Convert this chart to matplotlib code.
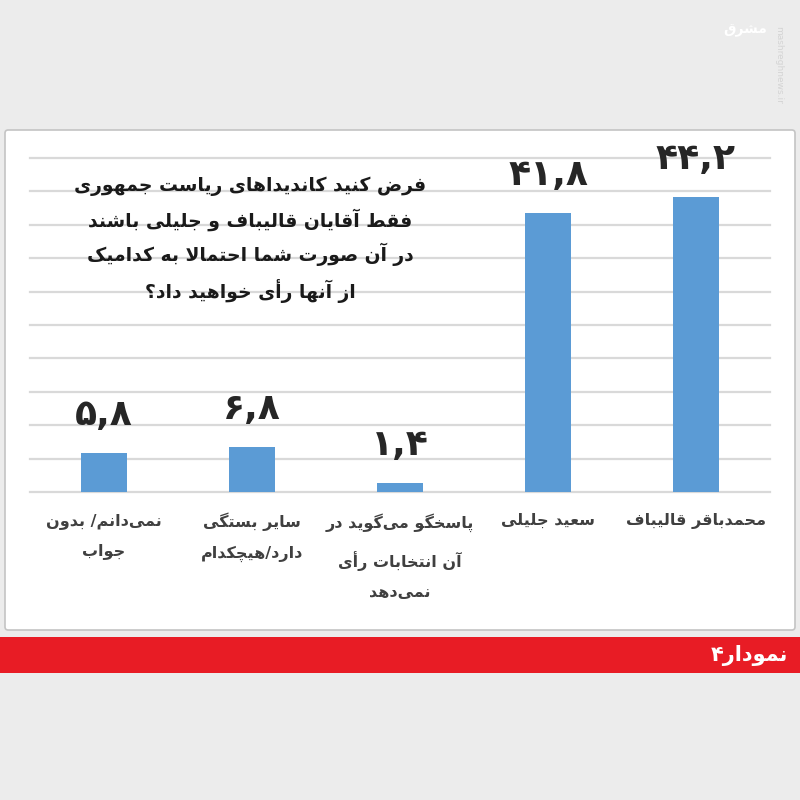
import matplotlib
matplotlib.use("Agg")
import matplotlib.pyplot as plt
from matplotlib.patches import Rectangle, FancyBboxPatch

# Data (right to left in the picture, so listed left to right here)
categories = [
    "نمی‌دانم/ بدون\nجواب",
    "سایر بستگی\nدارد/هیچکدام",
    "پاسخگو می‌گوید در\nآن انتخابات رأی\nنمی‌دهد",
    "سعید جلیلی",
    "محمدباقر قالیباف",
]
values = [5.8, 6.8, 1.4, 41.8, 44.2]
value_labels = ["۵,۸", "۶,۸", "۱,۴", "۴۱,۸", "۴۴,۲"]
title_text = ("فرض کنید کاندیداهای ریاست جمهوری\n"
              "فقط آقایان قالیباف و جلیلی باشند\n"
              "در آن صورت شما احتمالا به کدامیک\n"
              "از آنها رأی خواهید داد؟")
banner_text = "نمودار۴"
grid_ticks = list(range(0, 51, 5))

# Minimal Arabic/Persian shaping (matplotlib has no complex text layout)
# forms: isolated, final, initial, medial
FORMS = {
    "ا": (0xFE8D, 0xFE8E, None, None),
    "آ": (0xFE81, 0xFE82, None, None),
    "أ": (0xFE83, 0xFE84, None, None),
    "ب": (0xFE8F, 0xFE90, 0xFE91, 0xFE92),
    "پ": (0xFB56, 0xFB57, 0xFB58, 0xFB59),
    "ت": (0xFE95, 0xFE96, 0xFE97, 0xFE98),
    "ث": (0xFE99, 0xFE9A, 0xFE9B, 0xFE9C),
    "ج": (0xFE9D, 0xFE9E, 0xFE9F, 0xFEA0),
    "چ": (0xFB7A, 0xFB7B, 0xFB7C, 0xFB7D),
    "ح": (0xFEA1, 0xFEA2, 0xFEA3, 0xFEA4),
    "خ": (0xFEA5, 0xFEA6, 0xFEA7, 0xFEA8),
    "د": (0xFEA9, 0xFEAA, None, None),
    "ذ": (0xFEAB, 0xFEAC, None, None),
    "ر": (0xFEAD, 0xFEAE, None, None),
    "ز": (0xFEAF, 0xFEB0, None, None),
    "ژ": (0xFB8A, 0xFB8B, None, None),
    "س": (0xFEB1, 0xFEB2, 0xFEB3, 0xFEB4),
    "ش": (0xFEB5, 0xFEB6, 0xFEB7, 0xFEB8),
    "ص": (0xFEB9, 0xFEBA, 0xFEBB, 0xFEBC),
    "ض": (0xFEBD, 0xFEBE, 0xFEBF, 0xFEC0),
    "ط": (0xFEC1, 0xFEC2, 0xFEC3, 0xFEC4),
    "ظ": (0xFEC5, 0xFEC6, 0xFEC7, 0xFEC8),
    "ع": (0xFEC9, 0xFECA, 0xFECB, 0xFECC),
    "غ": (0xFECD, 0xFECE, 0xFECF, 0xFED0),
    "ف": (0xFED1, 0xFED2, 0xFED3, 0xFED4),
    "ق": (0xFED5, 0xFED6, 0xFED7, 0xFED8),
    "ک": (0xFB8E, 0xFB8F, 0xFB90, 0xFB91),
    "گ": (0xFB92, 0xFB93, 0xFB94, 0xFB95),
    "ل": (0xFEDD, 0xFEDE, 0xFEDF, 0xFEE0),
    "م": (0xFEE1, 0xFEE2, 0xFEE3, 0xFEE4),
    "ن": (0xFEE5, 0xFEE6, 0xFEE7, 0xFEE8),
    "ه": (0xFEE9, 0xFEEA, 0xFEEB, 0xFEEC),
    "و": (0xFEED, 0xFEEE, None, None),
    "ی": (0xFBFC, 0xFBFD, 0xFBFE, 0xFBFF),
}
LAM_ALEF = {"ا": (0xFEFB, 0xFEFC), "آ": (0xFEF5, 0xFEF6), "أ": (0xFEF7, 0xFEF8)}


def dual(c):
    return c in FORMS and FORMS[c][2] is not None


def shape_line(s):
    out = []
    i = 0
    while i < len(s):
        c = s[i]
        if c not in FORMS:
            if c != "\u200c":
                out.append(c)
            i += 1
            continue
        prev = s[i - 1] if i > 0 else ""
        joins_prev = dual(prev)
        if c == "ل" and i + 1 < len(s) and s[i + 1] in LAM_ALEF:
            iso, fin = LAM_ALEF[s[i + 1]]
            out.append(chr(fin if joins_prev else iso))
            i += 2
            continue
        nxt = s[i + 1] if i + 1 < len(s) else ""
        joins_next = dual(c) and nxt in FORMS
        iso, fin, ini, med = FORMS[c]
        if joins_prev and joins_next:
            f = med
        elif joins_prev:
            f = fin
        elif joins_next:
            f = ini
        else:
            f = iso
        out.append(chr(f))
        i += 1
    return "".join(out)[::-1]


def fa(text):
    return "\n".join(shape_line(line) for line in text.split("\n"))


plt.rcParams["font.family"] = ["DejaVu Sans"]

fig = plt.figure(figsize=(8, 8), dpi=100)
fig.patch.set_facecolor("#ececec")

# white panel
fig.patches.append(FancyBboxPatch((5 / 800, 1 - 630 / 800), 790 / 800, 500 / 800,
                                  boxstyle="round,pad=0,rounding_size=0.004",
                                  transform=fig.transFigure, facecolor="white",
                                  edgecolor="#c4c4c4", linewidth=1.2, zorder=-2))
# red banner
fig.patches.append(Rectangle((0, 1 - 673 / 800), 1, 36 / 800, transform=fig.transFigure,
                             facecolor="#e81c25", edgecolor="none", zorder=-2))
fig.text(788 / 800, 1 - 655 / 800, fa(banner_text), color="white", fontsize=15,
         fontweight="bold", ha="right", va="center")

# watermark
fig.text(745 / 800, 1 - 30 / 800, fa("مشرق"), color="white", fontsize=10,
         fontweight="bold", ha="center", va="center")
fig.text(779 / 800, 1 - 65 / 800, "mashreghnews.ir", color="#d4d4d4", fontsize=6.5,
         rotation=-90, ha="center", va="center")

ax = fig.add_axes([30 / 800, 1 - 492 / 800, 740 / 800, 334 / 800])
ax.set_facecolor("none")
x = list(range(len(values)))
ax.bar(x, values, width=0.31, color="#5b9bd5", zorder=3)
ax.set_xlim(-0.5, len(values) - 0.5)
ax.set_ylim(0, 50)
ax.set_yticks(grid_ticks)
for t in grid_ticks:
    ax.axhline(t, color="#d9d9d9", linewidth=1.6, zorder=1, clip_on=False)
ax.set_xticks([])
ax.set_yticklabels([])
ax.tick_params(left=False, bottom=False)
for sp in ax.spines.values():
    sp.set_visible(False)

for xi, v, lab in zip(x, values, value_labels):
    ax.annotate(lab, (xi, v), xytext=(0, 15), textcoords="offset points",
                ha="center", va="bottom", fontsize=26, fontweight="bold",
                color="#262626")

for xi, cat in zip(x, categories):
    ax.annotate(fa(cat), (xi, 0), xytext=(0, -15), textcoords="offset points",
                ha="center", va="top", fontsize=11.5, fontweight="bold",
                color="#404040", linespacing=2.2, annotation_clip=False)

fig.text(250 / 800, 1 - 177 / 800, fa(title_text), ha="center", va="top",
         fontsize=13.5, fontweight="bold", color="#1a1a1a", linespacing=1.65,
         zorder=5)

fig.savefig("out.png", dpi=100, facecolor=fig.get_facecolor())
